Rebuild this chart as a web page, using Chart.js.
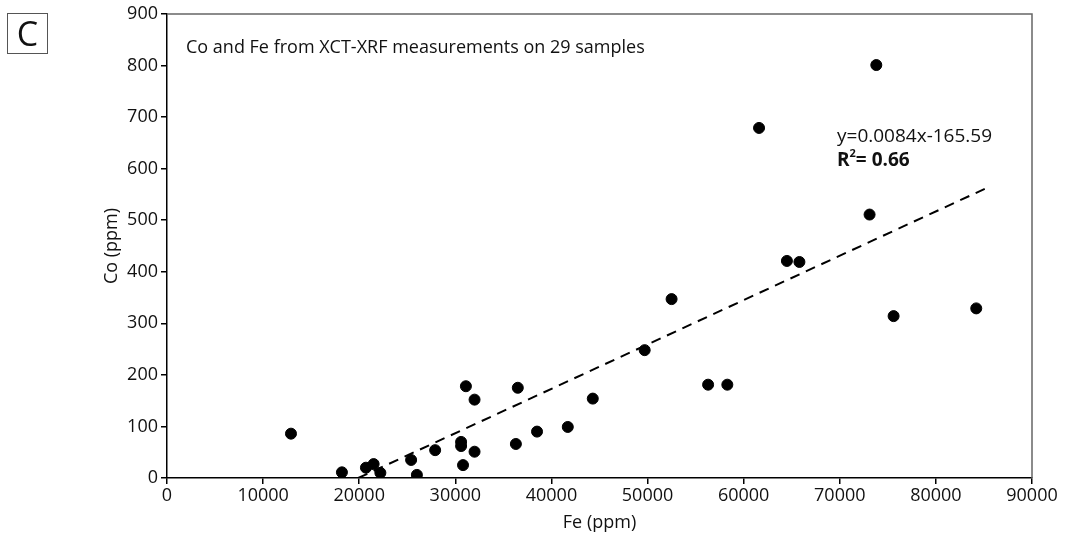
<!DOCTYPE html>
<html>
<head>
<meta charset="utf-8">
<script src="https://cdn.jsdelivr.net/npm/chart.js@4.4.0/dist/chart.umd.min.js"></script>
<style>
  html, body { margin: 0; padding: 0; background: #fff; }
  #wrap { position: relative; width: 1068px; height: 537px; }
  #panel {
    position: absolute; left: 7px; top: 13px; width: 39px; height: 39px;
    border: 1px solid #555; font: 34px "Open Sans", sans-serif; line-height: 38px;
    text-align: center; color: #111;
  }
</style>
</head>
<body>
<div id="wrap">
  <canvas id="chart" width="1068" height="537"></canvas>
  <div id="panel">C</div>
</div>
<script>
// Fe vs Co
const feValues = [12900, 18200, 20700, 21500, 22200, 25400, 26000, 27900, 30600, 30600,
  30800, 31100, 32000, 32000, 36300, 36500, 38500, 41700, 44300, 49700,
  52500, 56300, 58300, 61600, 64500, 65800, 73100, 73800, 75600, 84200];
const coValues = [86, 11, 20, 27, 10, 35, 6, 54, 70, 62,
  25, 178, 152, 51, 66, 175, 90, 99, 154, 248,
  347, 181, 181, 679, 421, 419, 511, 801, 314, 329];

// linear fit drawn in the figure (endpoints of the dashed line)
const trendX = [19900, 85100];
const trendY = [0, 561];

const xTicks = [0, 10000, 20000, 30000, 40000, 50000, 60000, 70000, 80000, 90000];
const yTicks = [0, 100, 200, 300, 400, 500, 600, 700, 800, 900];

const titleText = 'Co and Fe from XCT-XRF measurements on 29 samples';
const eqText = 'y=0.0084x-165.59';

const FONT = '"Open Sans", sans-serif';

const points = feValues.map((fe, i) => ({ x: fe, y: coValues[i] }));
const trend = trendX.map((x, i) => ({ x: x, y: trendY[i] }));

// frame + annotations
const extras = {
  id: 'extras',
  afterDraw(chart) {
    const { ctx, chartArea } = chart;
    ctx.save();
    ctx.strokeStyle = '#666';
    ctx.lineWidth = 1.5;
    ctx.beginPath();
    ctx.moveTo(chartArea.left, chartArea.top);
    ctx.lineTo(chartArea.right, chartArea.top);
    ctx.lineTo(chartArea.right, chartArea.bottom);
    ctx.stroke();

    ctx.fillStyle = '#111';
    ctx.textBaseline = 'middle';
    ctx.textAlign = 'left';
    ctx.font = '18px ' + FONT;
    ctx.fillText(titleText, 186, 48);

    ctx.font = '19px ' + FONT;
    ctx.fillText(eqText, 837, 137);
    ctx.font = 'bold 19px ' + FONT;
    ctx.fillText('R', 837, 161);
    const rw = ctx.measureText('R').width;
    ctx.font = 'bold 11px ' + FONT;
    ctx.fillText('2', 837 + rw, 154);
    const sw = ctx.measureText('2').width;
    ctx.font = 'bold 19px ' + FONT;
    ctx.fillText('= 0.66', 837 + rw + sw, 161);
    ctx.restore();
  }
};

new Chart(document.getElementById('chart'), {
  type: 'scatter',
  data: {
    datasets: [
      {
        label: 'Samples',
        data: points,
        backgroundColor: '#000',
        borderColor: '#000',
        pointRadius: 5.5,
        pointHoverRadius: 5.5,
      },
      {
        label: 'Fit',
        type: 'line',
        data: trend,
        borderColor: '#000',
        borderWidth: 2,
        borderDash: [10, 7],
        pointRadius: 0,
        fill: false,
      },
    ],
  },
  options: {
    responsive: false,
    animation: false,
    layout: { padding: { top: 14, right: 36, left: 0, bottom: 0 } },
    plugins: {
      legend: { display: false },
      tooltip: { enabled: false },
    },
    scales: {
      x: {
        type: 'linear',
        min: 0,
        max: 90000,
        afterBuildTicks: (axis) => { axis.ticks = xTicks.map((v) => ({ value: v })); },
        afterFit: (axis) => { axis.height = 59; },
        border: { color: '#000', width: 1.5 },
        grid: { drawOnChartArea: false, color: '#000', tickLength: 6, lineWidth: 1.5 },
        ticks: {
          color: '#111',
          font: { family: FONT, size: 18 },
          padding: 1,
          maxRotation: 0,
          callback: (v) => String(v),
        },
        title: {
          display: true,
          text: 'Fe (ppm)',
          color: '#111',
          font: { family: FONT, size: 18 },
          padding: { top: 0, bottom: 3 },
        },
      },
      y: {
        min: 0,
        max: 900,
        afterBuildTicks: (axis) => { axis.ticks = yTicks.map((v) => ({ value: v })); },
        afterFit: (axis) => { axis.width = 167; },
        border: { color: '#000', width: 1.5 },
        grid: { drawOnChartArea: false, color: '#000', tickLength: 6, lineWidth: 1.5 },
        ticks: {
          color: '#111',
          font: { family: FONT, size: 18 },
          padding: 3,
          callback: (v) => String(v),
        },
        title: {
          display: true,
          text: 'Co (ppm)',
          color: '#111',
          font: { family: FONT, size: 18 },
          padding: { top: 101, bottom: 0 },
        },
      },
    },
  },
  plugins: [extras],
});
</script>
</body>
</html>
